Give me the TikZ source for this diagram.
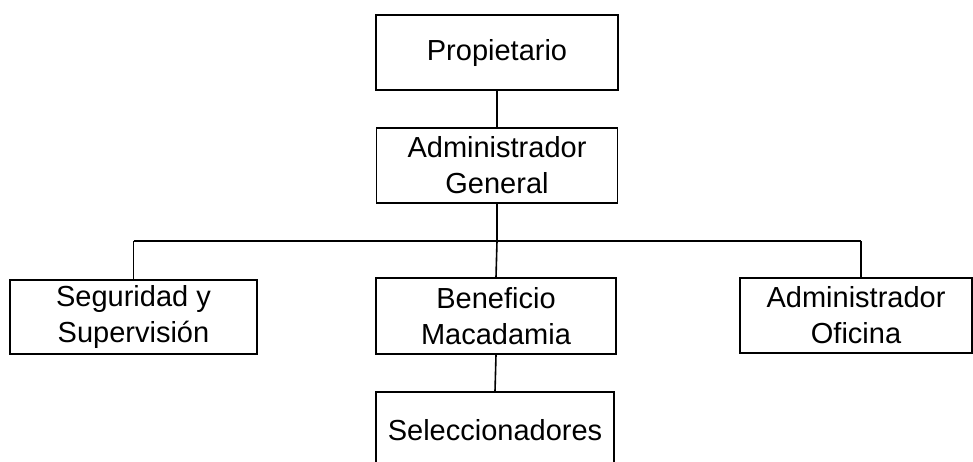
\documentclass[tikz,border=0pt]{standalone}
\usepackage{fontspec}
\setmainfont{Liberation Sans}
\begin{document}
\begin{tikzpicture}[x=1pt,y=-1pt,
  orgbox/.style={draw=black,line width=1.6pt,rectangle,inner sep=0pt,align=center,
    font=\fontsize{29}{36}\selectfont},
  link/.style={line width=1.6pt}]
\useasboundingbox (0,0) rectangle (973,461);
\clip (0,0) rectangle (973,461);
\node[orgbox,minimum width=242,minimum height=75] (P) at (497,52.5) {Propietario};
\node[orgbox,minimum width=241,minimum height=75] (AG) at (497,165.5) {Administrador\\General};
\node[orgbox,minimum width=247,minimum height=74] (S) at (133.5,317) {Seguridad y\\Supervisión};
\node[orgbox,minimum width=240,minimum height=76] (B) at (496,316) {Beneficio\\Macadamia};
\node[orgbox,minimum width=232,minimum height=75] (O) at (856,315.5) {Administrador\\Oficina};
\node[orgbox,minimum width=238,minimum height=76,text depth=0pt] (Sel) at (495,430) {Seleccionadores};
\coordinate (busL) at (133.5,241);
\coordinate (busR) at (861,241);
\coordinate (busM) at (497,241);
\draw[link] (P.south) -- (AG.south |- P.south) -- (AG.north);
\draw[link] (AG.south) -- (busM);
\draw[link] (busL) -- (busR);
\draw[link] (busL) -- (busL |- S.north);
\draw[link] (busM) -- (B.north);
\draw[link] (busR) -- (busR |- O.north);
\draw[link] (B.south) -- (Sel.north);
\end{tikzpicture}
\end{document}
